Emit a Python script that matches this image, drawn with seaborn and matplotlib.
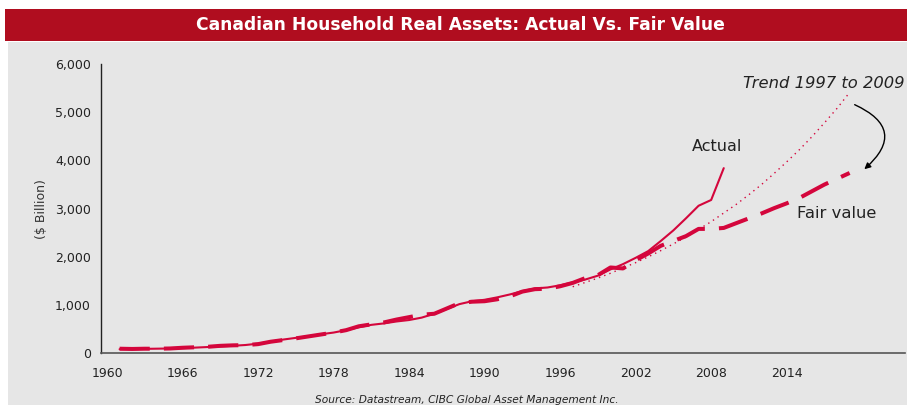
import numpy as np
import pandas as pd
import seaborn as sns
import matplotlib.pyplot as plt
from matplotlib.patches import Rectangle
from matplotlib.ticker import FuncFormatter, FixedLocator

# Values ($ billion)
actual_years = list(range(1961, 2010))
actual_vals = [85, 88, 92, 96, 100, 107, 118, 130, 143, 156,
               172, 200, 240, 285, 320, 350, 395, 430, 480, 540,
               590, 620, 660, 690, 740, 820, 920, 1020, 1080, 1110,
               1160, 1220, 1290, 1345, 1365, 1410, 1470, 1530, 1610, 1740,
               1850, 1980, 2120, 2330, 2550, 2800, 3060, 3180, 3840]

fair_years = list(range(1961, 2020))
fair_vals = [95, 90, 95, 95, 100, 115, 125, 135, 155, 165,
             170, 190, 240, 275, 310, 350, 390, 430, 480, 560,
             600, 640, 700, 750, 800, 820, 930, 1040, 1070, 1080,
             1120, 1180, 1280, 1330, 1340, 1390, 1460, 1560, 1620, 1780,
             1760, 1930, 2070, 2230, 2330, 2430, 2580, 2580, 2600, 2700,
             2800, 2900, 3010, 3110, 3220, 3360, 3500, 3620, 3740]

trend_years = list(range(1997, 2020))
trend_vals = [1380, 1470, 1560, 1660, 1770, 1880, 2000, 2130, 2270, 2410,
              2570, 2730, 2910, 3090, 3290, 3500, 3730, 3970, 4220, 4490,
              4780, 5080, 5410]

year_labels = list(range(1960, 2015, 6))

actual = pd.DataFrame({"year": actual_years, "value": actual_vals})
fair = pd.DataFrame({"year": fair_years, "value": fair_vals})
trend = pd.DataFrame({"year": trend_years, "value": trend_vals})

RED = "#d4063c"
BAND = "#b00d1f"
BG = "#e6e6e6"

sns.set_style("white")
plt.rcParams["font.family"] = ["DejaVu Sans"]

fig = plt.figure(figsize=(9.07, 4.05), dpi=100)
fig.patch.set_facecolor("white")
# grey panel and red title band (behind the axes)
fig.patches.append(Rectangle((8 / 907, 0), 1, 1 - 42 / 405, transform=fig.transFigure,
                             facecolor=BG, edgecolor="none", zorder=-10))
fig.patches.append(Rectangle((5 / 907, 1 - 41 / 405), 1, 32 / 405, transform=fig.transFigure,
                             facecolor=BAND, edgecolor="none", zorder=-10))
fig.text(0.508, 1 - 25 / 405, "Canadian Household Real Assets: Actual Vs. Fair Value",
         color="white", fontsize=12.3, fontweight="bold", ha="center", va="center")

ax = fig.add_axes([100.7 / 907, 1 - 353.3 / 405, (905 - 100.7) / 907, (353.3 - 64) / 405])
ax.set_facecolor("none")
ax.set_zorder(2)

sns.lineplot(data=trend, x="year", y="value", ax=ax, color=RED, lw=1.0,
             linestyle=(0, (1, 3)))
sns.lineplot(data=fair, x="year", y="value", ax=ax, color=RED, lw=2.9,
             linestyle=(0, (7.5, 3.5)))
sns.lineplot(data=actual, x="year", y="value", ax=ax, color=RED, lw=1.5)

ax.set_xlim(1959.5, 2023.4)
ax.set_ylim(0, 6000)
ax.set_xlabel("")
ax.set_ylabel("($ Billion)", fontsize=9, color="#333333")
ax.yaxis.set_label_coords(-0.066, 0.5)

ax.xaxis.set_major_locator(FixedLocator(year_labels))
ax.xaxis.set_minor_locator(FixedLocator(np.arange(1959.5, 2024, 4)))
ax.set_xticklabels([str(y) for y in year_labels])
ax.tick_params(axis="x", which="major", length=0, pad=10, labelsize=9, labelcolor="#222222")
ax.tick_params(axis="x", which="minor", length=5, width=1, color="#333333", direction="out")
ax.set_yticks(range(0, 6001, 1000))
ax.yaxis.set_major_formatter(FuncFormatter(lambda v, p: f"{int(v):,}"))
ax.tick_params(axis="y", length=4, width=1, color="#222222", labelsize=9,
               labelcolor="#222222", direction="out", pad=3)

for s in ["top", "right"]:
    ax.spines[s].set_visible(False)
ax.spines["left"].set_color("#222222")
ax.spines["bottom"].set_color("#555555")
ax.spines["left"].set_linewidth(1)
ax.spines["bottom"].set_linewidth(1.2)

ax.text(2006.5, 4290, "Actual", fontsize=11.5, color="#222222", ha="left", va="center")
ax.text(2014.8, 2900, "Fair value", fontsize=11.8, color="#222222", ha="left", va="center")
ax.text(2023.4, 5600, "Trend 1997 to 2009", fontsize=11.8, style="italic",
        color="#222222", ha="right", va="center")
ax.annotate("", xy=(2020.0, 3780), xytext=(2019.2, 5180),
            arrowprops=dict(arrowstyle="-|>", color="black", lw=1,
                            mutation_scale=9,
                            connectionstyle="arc3,rad=-0.8"))

fig.text(467 / 907, 1 - 400 / 405, "Source: Datastream, CIBC Global Asset Management Inc.",
         fontsize=7.7, style="italic", color="#222222", ha="center", va="center")

fig.savefig("out.png", dpi=100)
